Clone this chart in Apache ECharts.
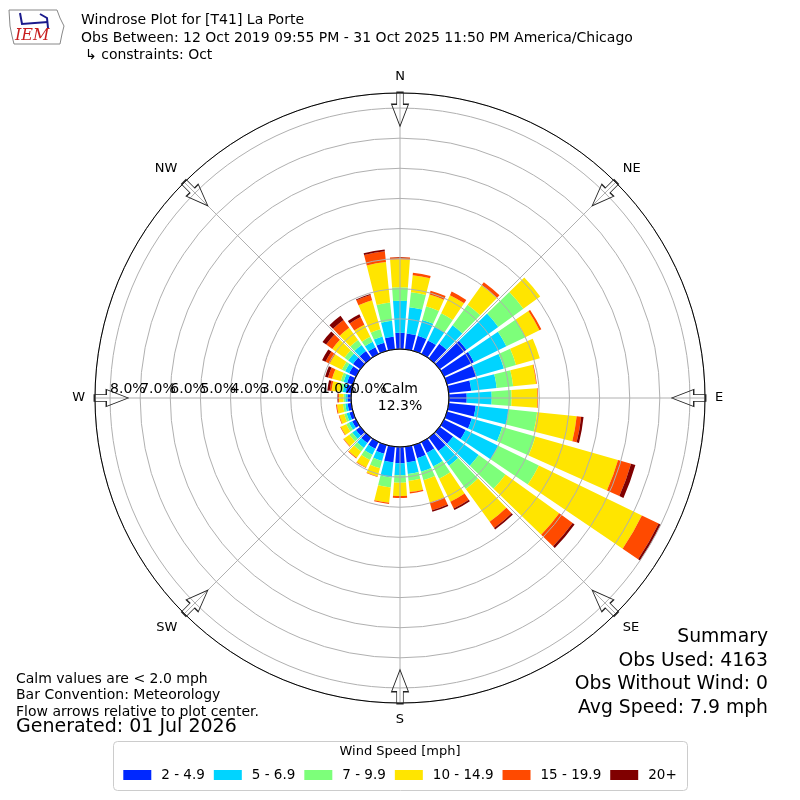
<!DOCTYPE html>
<html>
<head>
<meta charset="utf-8">
<script src="https://cdn.jsdelivr.net/npm/echarts@6/dist/echarts.min.js"></script>
<style>
  html, body { margin: 0; padding: 0; background: #fff; }
  #chart { width: 800px; height: 800px; }
</style>
</head>
<body>
<div id="chart"></div>
<script>
// 风向 0..350, 每10度一个
let dirs = ['0', '10', '20', '30', '40', '50', '60', '70', '80', '90', '100', '110',
    '120', '130', '140', '150', '160', '170', '180', '190', '200', '210', '220', '230',
    '240', '250', '260', '270', '280', '290', '300', '310', '320', '330', '340', '350'];

let speedBins = ['2 - 4.9', '5 - 6.9', '7 - 9.9', '10 - 14.9', '15 - 19.9', '20+'];
let speedColors = ['#0028ff', '#00d4ff', '#7dff7a', '#ffe500', '#ff4a00', '#800000'];

// 每个风速段在各方向的百分比
let spd2 = [0.54, 0.53, 0.52, 0.50, 0.60, 1.10, 1.10, 1.02, 0.75, 0.59, 0.90, 0.85, 0.80, 0.55, 0.55, 0.40, 0.45, 0.52,
    0.54, 0.52, 0.30, 0.25, 0.22, 0.18, 0.14, 0.12, 0.12, 0.12, 0.18, 0.20, 0.25, 0.30, 0.30, 0.25, 0.28, 0.42];
let spd5 = [1.06, 0.87, 0.55, 0.50, 0.75, 1.30, 1.20, 0.94, 0.85, 0.83, 1.10, 1.05, 1.20, 1.05, 0.60, 0.50, 0.47, 0.39,
    0.40, 0.51, 0.25, 0.22, 0.20, 0.15, 0.12, 0.10, 0.08, 0.07, 0.10, 0.12, 0.15, 0.20, 0.25, 0.20, 0.22, 0.53];
let spd7 = [0.45, 0.50, 0.47, 0.50, 0.85, 1.03, 0.70, 0.42, 0.55, 0.66, 0.95, 1.15, 1.50, 1.10, 0.95, 0.45, 0.29, 0.23,
    0.25, 0.33, 0.25, 0.19, 0.15, 0.12, 0.10, 0.08, 0.08, 0.06, 0.10, 0.10, 0.12, 0.15, 0.20, 0.18, 0.25, 0.61];
let spd10 = [0.93, 0.57, 0.41, 0.67, 0.80, 0.69, 0.52, 0.82, 0.77, 0.86, 1.32, 2.85, 3.80, 2.20, 1.35, 0.85, 0.77, 0.37,
    0.44, 0.51, 0.28, 0.28, 0.25, 0.23, 0.20, 0.17, 0.20, 0.15, 0.28, 0.30, 0.45, 0.50, 0.50, 0.45, 1.00, 1.35];
let spd15 = [0.07, 0.08, 0.13, 0.13, 0.12, 0.00, 0.07, 0.00, 0.02, 0.02, 0.15, 0.45, 0.62, 0.55, 0.25, 0.25, 0.27, 0.05,
    0.06, 0.04, 0.02, 0.02, 0.03, 0.02, 0.02, 0.02, 0.03, 0.03, 0.06, 0.14, 0.15, 0.25, 0.32, 0.28, 0.18, 0.36];
let spd20 = [0, 0, 0, 0, 0, 0, 0, 0, 0, 0, 0.08, 0.15, 0.08, 0.08, 0.06, 0.06, 0.05, 0,
    0, 0, 0, 0, 0, 0, 0, 0, 0, 0.02, 0.08, 0.10, 0.13, 0.15, 0.17, 0.10, 0.03, 0.06];

let calmPct = 12.3;
let ringTicks = [0, 1, 2, 3, 4, 5, 6, 7, 8];
let compass = { '-90': 'W', '-45': 'NW', '0': 'N', '45': 'NE', '90': 'E', '135': 'SE', '180': 'S', '225': 'SW', '270': 'W' };
let arrowAngles = [0, 45, 90, 135, 180, 225, 270, 315];
let arrowRadius = 7.96;

let summary = ['Summary', 'Obs Used: 4163', 'Obs Without Wind: 0', 'Avg Speed: 7.9 mph'];
let notes = ['Calm values are < 2.0 mph', 'Bar Convention: Meteorology', 'Flow arrows relative to plot center.'];

/////////////////////////////////////////////////////////////////////
let font = 'DejaVu Sans';
let chart = echarts.init(document.getElementById('chart'), null, { renderer: 'canvas' });

let allSpeeds = [spd2, spd5, spd7, spd10, spd15, spd20];
let barSeries = allSpeeds.map((arr, i) => {
    return {
        name: speedBins[i],
        type: 'bar',
        coordinateSystem: 'polar',
        polarIndex: 0,
        stack: 'wind',
        barCategoryGap: '18%',
        data: arr,
        itemStyle: { color: speedColors[i] },
        z: 2,
        silent: true
    };
});

// 箭头, 指向圆心
let arrowPath = 'path://M-3.3,0 L3.3,0 L3.3,12 L8.5,12 L0,34 L-8.5,12 L-3.3,12 Z';

let textEls = [];
notes.forEach((t, i) => {
    textEls.push({ type: 'text', left: 16, top: 672 + i * 16.6, style: { text: t, font: '14px "DejaVu Sans"', fill: '#000' } });
});
textEls.push({ type: 'text', left: 16, top: 718, style: { text: 'Generated: 01 Jul 2026', font: '19px "DejaVu Sans"', fill: '#000' } });
summary.forEach((t, i) => {
    textEls.push({ type: 'text', right: 32, top: 628 + i * 23.4, style: { text: t, font: '18.8px "DejaVu Sans"', fill: '#000' } });
});

let option = {
    animation: false,
    backgroundColor: '#fff',
    textStyle: { fontFamily: font },
    polar: [
        { center: [400, 398], radius: [49, 305] },
        { center: [400, 398], radius: [49, 305] }
    ],
    angleAxis: [{
        polarIndex: 0,
        type: 'category',
        data: dirs,
        startAngle: 95,
        clockwise: true,
        axisLine: { show: false },
        axisTick: { show: false },
        axisLabel: { show: false },
        splitLine: { show: false }
    }, {
        polarIndex: 1,
        type: 'value',
        min: -90,
        max: 270,
        interval: 45,
        startAngle: 180,
        clockwise: true,
        z: 10,
        axisLine: { lineStyle: { color: '#000', width: 1 } },
        axisTick: { show: false },
        axisLabel: {
            margin: 10,
            color: '#000',
            fontSize: 13,
            fontFamily: font,
            formatter: (v) => compass[String(v)] || ''
        },
        splitLine: { lineStyle: { color: '#b0b0b0', width: 1 } }
    }],
    radiusAxis: [{
        polarIndex: 0,
        type: 'value',
        min: 0,
        max: 8.5,
        show: false
    }, {
        polarIndex: 1,
        type: 'value',
        min: 0,
        max: 8.5,
        interval: 1,
        z: 10,
        axisLine: { show: false },
        axisTick: { show: false },
        axisLabel: { show: false },
        splitLine: { lineStyle: { color: '#b0b0b0', width: 1 } }
    }],
    legend: {
        data: speedBins,
        left: 'center',
        top: 763,
        icon: 'rect',
        itemWidth: 28,
        itemHeight: 10,
        itemGap: 9,
        selectedMode: false,
        textStyle: { fontSize: 13.5, color: '#000', fontFamily: font, padding: [0, 0, 0, 5] }
    },
    graphic: {
        elements: [
            // 标题
            { type: 'text', left: 81, top: 13, style: { text: 'Windrose Plot for [T41] La Porte', font: '14px "DejaVu Sans"', fill: '#000' } },
            { type: 'text', left: 81, top: 31, style: { text: 'Obs Between: 12 Oct 2019 09:55 PM - 31 Oct 2025 11:50 PM America/Chicago', font: '14px "DejaVu Sans"', fill: '#000' } },
            { type: 'text', left: 85, top: 48, style: { text: '\u21b3 constraints: Oct', font: '14px "DejaVu Sans"', fill: '#000' } },
            // IEM logo (简化)
            {
                type: 'polygon', shape: { points: [[9, 10], [57, 10], [60, 18], [64, 26], [62, 34], [60, 44], [14, 44], [12, 36], [10, 26]] },
                style: { fill: 'none', stroke: '#888', lineWidth: 1 }
            },
            { type: 'polyline', shape: { points: [[20, 13], [22, 24], [48, 22]] }, style: { stroke: '#1a1a8c', lineWidth: 2, fill: 'none' } },
            { type: 'polyline', shape: { points: [[40, 14], [47, 18], [48, 28]] }, style: { stroke: '#1a1a8c', lineWidth: 2, fill: 'none' } },
            { type: 'text', left: 15, top: 28, style: { text: 'IEM', font: 'italic 16px "DejaVu Serif"', fill: '#c81e1e' } },
            // 图例框
            { type: 'rect', shape: { x: 113.5, y: 741.5, width: 574, height: 49, r: 4 }, style: { fill: '#fff', stroke: '#cccccc', lineWidth: 1 }, z: -1 },
            { type: 'text', left: 'center', top: 745, style: { text: 'Wind Speed [mph]', font: '13px "DejaVu Sans"', fill: '#000' } }
        ].concat(textEls)
    },
    series: barSeries.concat([{
        type: 'pie',
        center: [400, 398],
        radius: [0, 49],
        silent: true,
        z: 1,
        data: [{ value: calmPct, name: 'Calm' }],
        itemStyle: { color: '#fff', borderColor: '#000', borderWidth: 1.2 },
        label: {
            position: 'center',
            formatter: (p) => 'Calm\n' + p.value.toFixed(1) + '%',
            fontSize: 14,
            lineHeight: 17,
            fontFamily: font,
            color: '#000'
        },
        labelLine: { show: false }
    }, {
        // 圆环刻度文字, 沿西方向
        type: 'scatter',
        coordinateSystem: 'polar',
        polarIndex: 1,
        silent: true,
        z: 11,
        symbolSize: 0,
        itemStyle: { opacity: 1 },
        data: ringTicks.map((v) => [v, 270]),
        label: {
            show: true,
            position: [0, -16],
            formatter: (p) => p.value[0].toFixed(1) + '%',
            fontSize: 14,
            fontFamily: font,
            color: '#000',
            opacity: 1
        },
        labelLayout: { hideOverlap: false }
    }, {
        type: 'scatter',
        coordinateSystem: 'polar',
        polarIndex: 1,
        silent: true,
        z: 12,
        symbol: arrowPath,
        symbolSize: [17, 34],
        symbolRotate: (v) => -v[1],
        itemStyle: { color: 'rgba(255,255,255,0)', borderColor: '#222', borderWidth: 1, opacity: 1 },
        data: arrowAngles.map((a) => [arrowRadius, a])
    }])
};

chart.setOption(option);
</script>
</body>
</html>
